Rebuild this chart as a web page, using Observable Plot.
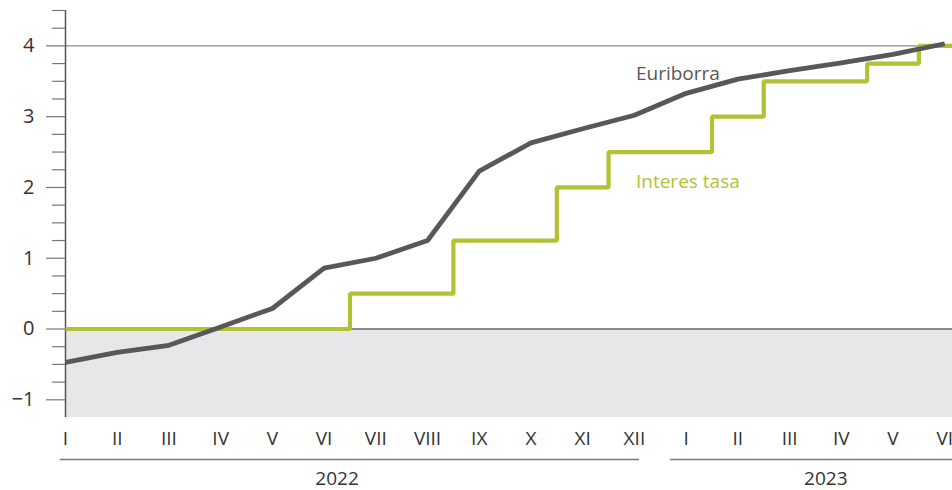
<!DOCTYPE html>
<html>
<head>
<meta charset="utf-8">
<script src="https://cdn.jsdelivr.net/npm/d3@7"></script>
<script src="https://cdn.jsdelivr.net/npm/@observablehq/plot@0.6"></script>
<style>
  html, body { margin: 0; padding: 0; background: #fff; overflow: hidden; }
  #chart svg { display: block; }
</style>
</head>
<body>
<div id="chart"></div>
<script>
// Month tick labels (2022 I..XII, 2023 I..VI)
const monthLabels = ["I","II","III","IV","V","VI","VII","VIII","IX","X","XI","XII","I","II","III","IV","V","VI"];
// Euribor (12 months), monthly, %
const euribor = [-0.47, -0.33, -0.23, 0.03, 0.29, 0.86, 1.00, 1.25, 2.23, 2.63, 2.83, 3.02, 3.33, 3.53, 3.65, 3.76, 3.88, 4.03];
// Interest rate (ECB), monthly, %
const interestRate = [0, 0, 0, 0, 0, 0, 0.5, 0.5, 1.25, 1.25, 2.0, 2.5, 2.5, 3.0, 3.5, 3.5, 3.75, 4.0];
// Years and the month index ranges they cover
const years = ["2022", "2023"];
const yearFirstMonth = [0, 12];
const yearLastMonth = [11, 17];
// Series names
const seriesNames = ["Euriborra", "Interes tasa"];
// Y ticks
const yMajorTicks = [-1, 0, 1, 2, 3, 4];

const gray = "#58585a";
const green = "#b3c234";
const xMax = 17.15, yMin = -1.25, yMax = 4.5;

const eurData = euribor.map((v, i) => ({i, v}));
const rateData = interestRate.map((v, i) => ({i, v}));
// continue the last step to the right edge of the frame
rateData.push({i: xMax, v: interestRate[interestRate.length - 1]});
const yMinor = d3.range(yMin + 0.25, yMax + 0.001, 0.25).filter(v => !yMajorTicks.includes(v));
const yearData = years.map((y, k) => ({
  year: y,
  x1: yearFirstMonth[k] - (k === 0 ? 0.1 : 0.3),
  x2: yearLastMonth[k] + (k === 0 ? 0.1 : 0.3),
  xm: k === 0 ? (yearFirstMonth[k] + yearLastMonth[k]) / 2 - 0.25 : (yearFirstMonth[k] + yearLastMonth[k]) / 2 + 0.2
}));
const labelData = [
  {name: seriesNames[0], x: 11.03, y: 3.61, color: gray},
  {name: seriesNames[1], x: 11.03, y: 2.08, color: green}
];
const fmtY = d => d < 0 ? "\u2212" + Math.abs(d) : String(d);

const chart = Plot.plot({
  width: 952,
  height: 490,
  marginLeft: 65,
  marginRight: 0,
  marginTop: 10,
  marginBottom: 73,
  style: {fontFamily: "'Open Sans', sans-serif", color: "#333", background: "#fff", overflow: "visible"},
  x: {domain: [0, xMax], label: null},
  y: {domain: [yMin, yMax], label: null},
  marks: [
    Plot.rect([0], {x1: 0, x2: xMax, y1: yMin, y2: 0, fill: "#e6e7e8"}),
    Plot.ruleY([4], {stroke: "#8c8c8c", strokeWidth: 1.2}),
    Plot.ruleY([0], {stroke: "#2b2b2b", strokeWidth: 1.2}),
    Plot.ruleX([0], {y1: yMin, y2: yMax, stroke: "#555", strokeWidth: 1.5}),
    Plot.axisY({ticks: yMinor, tickSize: 13, tickFormat: () => "", stroke: "#777", strokeWidth: 1.2}),
    Plot.axisY({ticks: yMajorTicks, tickSize: 19, tickPadding: 12, tickFormat: fmtY, fontSize: 20, stroke: "#777", strokeWidth: 1.2, fill: "#333"}),
    Plot.axisX({ticks: d3.range(monthLabels.length), tickFormat: i => monthLabels[i], tickSize: 0, tickPadding: 14, fontSize: 19, fill: "#333"}),
    Plot.lineY(rateData, {x: "i", y: "v", curve: "step", stroke: green, strokeWidth: 4.2, strokeLinejoin: "miter", strokeLinecap: "butt"}),
    Plot.lineY(eurData, {x: "i", y: "v", stroke: gray, strokeWidth: 4.8, strokeLinejoin: "round", strokeLinecap: "butt"}),
    Plot.text(labelData, {x: "x", y: "y", text: "name", fill: d => d.color, textAnchor: "start", fontSize: 19}),
    Plot.ruleY(yearData, {x1: "x1", x2: "x2", y: () => yMin, dy: 42, stroke: "#7a7a7a", strokeWidth: 1.3, clip: false}),
    Plot.text(yearData, {x: "xm", y: () => yMin, text: "year", dy: 61, fontSize: 19, fill: "#333"})
  ]
});
document.getElementById("chart").appendChild(chart);
</script>
</body>
</html>
